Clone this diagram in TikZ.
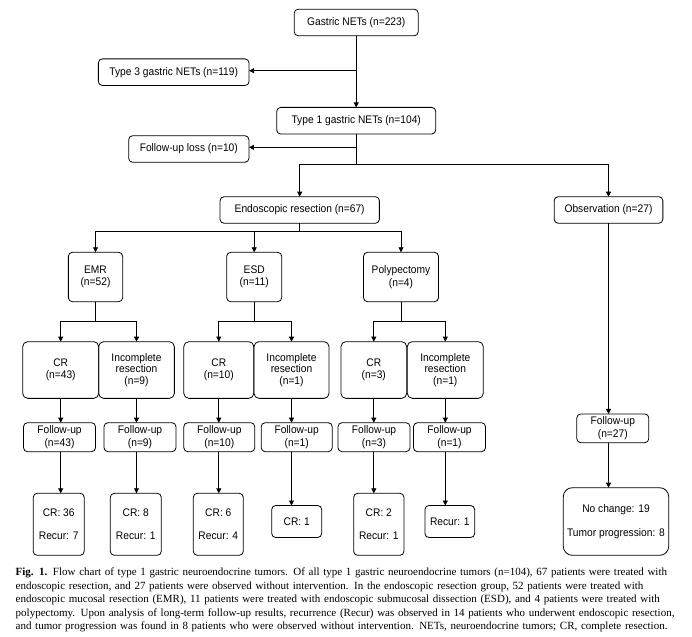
\documentclass[tikz,border=0pt]{standalone}
\usepackage{fontspec}
\setmainfont{Liberation Serif}
\newfontfamily\boxfont{Liberation Sans}[FakeStretch=0.93]
\usetikzlibrary{arrows.meta,calc}
\begin{document}
\begin{tikzpicture}[x=1pt,y=-1pt,
  box/.style={draw, line width=0.8pt, rounded corners=4pt, align=center, inner sep=0pt, outer sep=0pt,
    font=\boxfont\fontsize{11}{12.5}\selectfont},
  wide/.style={box, minimum height=26.6pt},
  mid/.style={box, minimum height=49.4pt},
  crb/.style={box, minimum height=56.7pt, rounded corners=5pt},
  fub/.style={box, minimum height=29pt},
  fin/.style={box, minimum height=62pt},
  fins/.style={box, minimum height=32pt},
  arr/.style={-{Triangle[length=5pt,width=5pt]}, line width=0.8pt},
  ln/.style={line width=0.8pt}]
\useasboundingbox (0,0) rectangle (692,636);

% top level
\node[wide, minimum width=124pt] (gastric) at (356.2,22.5) {Gastric NETs (n=223)};
\node[wide, minimum width=150.7pt] (type3) at (173.7,72.2) {Type 3 gastric NETs (n=119)};
\node[wide, minimum width=159pt] (type1) at (356.2,120.7) {Type 1 gastric NETs (n=104)};
\node[wide, minimum width=120.3pt] (loss) at (188.8,149) {Follow-up loss (n=10)};
\node[wide, minimum width=159.3pt] (endo) at (299.7,210) {Endoscopic resection (n=67)};
\node[wide, minimum width=108.7pt] (obs) at (608.5,210) {Observation (n=27)};

% second level
\node[mid, minimum width=54.3pt] (emr) at (95.5,277) {EMR\\(n=52)};
\node[mid, minimum width=55pt] (esd) at (254.2,277) {ESD\\(n=11)};
\node[mid, minimum width=75pt] (poly) at (401,277) {Polypectomy\\(n=4)};

% third level
\node[crb, minimum width=76pt] (cr1) at (60.7,370) {CR\\(n=43)};
\node[crb, minimum width=75.7pt] (inc1) at (136.5,370) {Incomplete\\[-0.7pt]resection\\[-0.7pt](n=9)};
\node[crb, minimum width=70pt] (cr2) at (218.8,370) {CR\\(n=10)};
\node[crb, minimum width=75pt] (inc2) at (291.5,370) {Incomplete\\[-0.7pt]resection\\[-0.7pt](n=1)};
\node[crb, minimum width=65.7pt] (cr3) at (373.8,370) {CR\\(n=3)};
\node[crb, minimum width=76pt] (inc3) at (445.3,370) {Incomplete\\[-0.7pt]resection\\[-0.7pt](n=1)};

% follow-up
\node[fub, minimum width=72pt] (fu1) at (59.5,437.2) {Follow-up\\(n=43)};
\node[fub, minimum width=72pt] (fu2) at (140,437.2) {Follow-up\\(n=9)};
\node[fub, minimum width=71pt] (fu3) at (219.3,437.2) {Follow-up\\(n=10)};
\node[fub, minimum width=71pt] (fu4) at (296.7,437.2) {Follow-up\\(n=1)};
\node[fub, minimum width=72pt] (fu5) at (374,437.2) {Follow-up\\(n=3)};
\node[fub, minimum width=72pt] (fu6) at (449.5,437.2) {Follow-up\\(n=1)};
\node[fub, minimum width=72pt, minimum height=28.7pt] (fu7) at (612.8,428.3) {Follow-up\\(n=27)};

% final
\node[fin, minimum width=51pt] (f1) at (58.7,524.3) {CR: 36\\[11pt]Recur: 7};
\node[fin, minimum width=51pt] (f2) at (135.8,524.3) {CR: 8\\[11pt]Recur: 1};
\node[fin, minimum width=50pt] (f3) at (218.3,524.3) {CR: 6\\[11pt]Recur: 4};
\node[fins, minimum width=50pt] (f4) at (296.7,521.5) {CR: 1};
\node[fin, minimum width=50.3pt] (f5) at (378.8,524.3) {CR: 2\\[11pt]Recur: 1};
\node[fins, minimum width=49.7pt] (f6) at (449.8,521.5) {Recur: 1};
\node[box, minimum width=105.4pt, minimum height=67.6pt, rounded corners=9pt] (obsf) at (616,521.5) {No change: 19\\[11pt]Tumor progression: 8};

% connectors top
\draw[arr] (gastric.south) -- (gastric.south |- type1.north);
\coordinate (j1) at (gastric.south |- 0,70.7);
\draw[arr] (j1) -- (j1 -| type3.east);
\coordinate (j2) at (type1.south |- 0,147.3);
\coordinate (sp) at (type1.south |- 0,164.3);
\draw[ln] (type1.south) -- (sp);
\draw[arr] (j2) -- (j2 -| loss.east);
\draw[arr] (sp) -| (endo.north);
\draw[arr] (sp) -| (obs.north);

% endoscopic split
\coordinate (eb) at (endo.south |- 0,231.7);
\draw[ln] (endo.south) -- (eb);
\draw[arr] (eb) -| (emr.north);
\draw[arr] (eb) -| (esd.north);
\draw[arr] (eb) -| (poly.north);

% method splits
\coordinate (m1) at (emr.south |- 0,321);
\draw[ln] (emr.south) -- (m1);
\draw[arr] (m1) -| (cr1.north);
\draw[arr] (m1) -| (inc1.north);
\coordinate (m2) at (esd.south |- 0,321);
\draw[ln] (esd.south) -- (m2);
\draw[arr] (m2) -| (cr2.north);
\draw[arr] (m2) -| (inc2.north);
\coordinate (m3) at (poly.south |- 0,321);
\draw[ln] (poly.south) -- (m3);
\draw[arr] (m3) -| (cr3.north);
\draw[arr] (m3) -| (inc3.north);

% to follow-up and results
\foreach \a/\b/\c in {cr1/fu1/f1, inc1/fu2/f2, cr2/fu3/f3, inc2/fu4/f4, cr3/fu5/f5, inc3/fu6/f6}{
  \draw[arr] (\a.south) -- (\a.south |- \b.north);
  \draw[arr] (\a.south |- \b.south) -- (\a.south |- \c.north);
}
\draw[arr] (obs.south) -- (obs.south |- fu7.north);
\draw[arr] (obs.south |- fu7.south) -- (obs.south |- obsf.north);

% caption
\node[anchor=north west, inner sep=0pt, align=left, text width=660pt,
  font=\fontsize{11}{13.5}\selectfont] (cap) at (15.5,568) {%
\makebox[660pt][s]{\textbf{Fig. 1.} Flow chart of type 1 gastric neuroendocrine tumors. Of all type 1 gastric neuroendocrine tumors (n=104), 67 patients were treated with}\\
\makebox[660pt][s]{endoscopic resection, and 27 patients were observed without intervention. In the endoscopic resection group, 52 patients were treated with}\\
\makebox[660pt][s]{endoscopic mucosal resection (EMR), 11 patients were treated with endoscopic submucosal dissection (ESD), and 4 patients were treated with}\\
\makebox[660pt][s]{polypectomy. Upon analysis of long-term follow-up results, recurrence (Recur) was observed in 14 patients who underwent endoscopic resection,}\\
\makebox[660pt][s]{and tumor progression was found in 8 patients who were observed without intervention. NETs, neuroendocrine tumors; CR, complete resection.}};
\end{tikzpicture}
\end{document}
